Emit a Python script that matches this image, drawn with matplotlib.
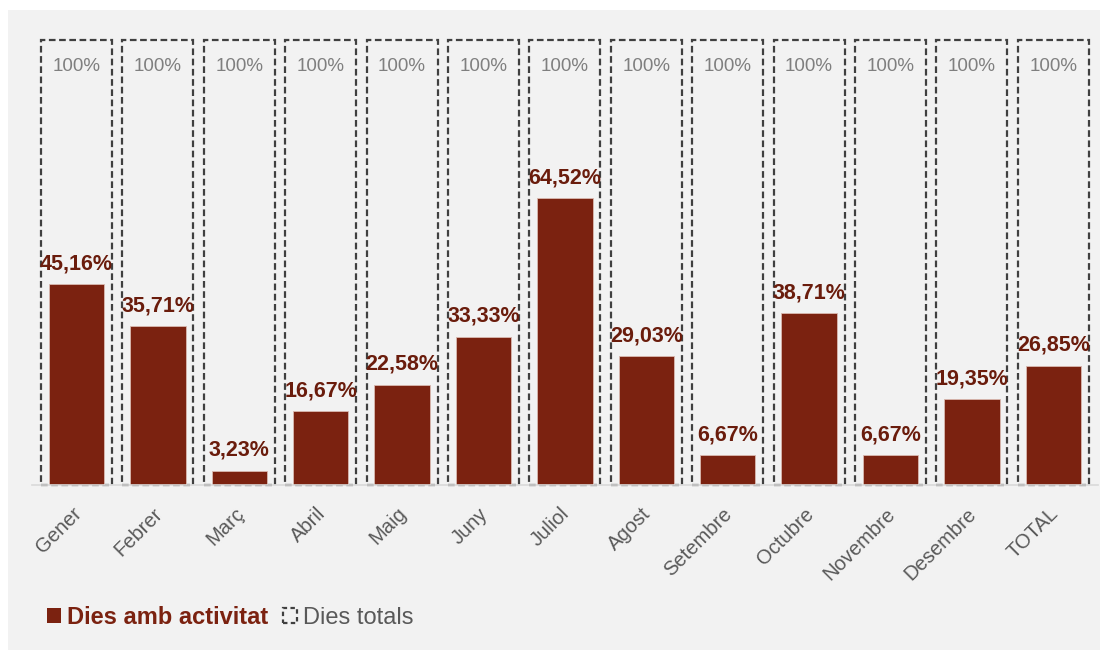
import numpy as np
import matplotlib
matplotlib.use("Agg")
import matplotlib.pyplot as plt
import matplotlib.transforms as mtransforms
from matplotlib.patches import Rectangle, Patch

plt.rcParams["font.family"] = ["Liberation Sans", "DejaVu Sans"]

months = ["Gener", "Febrer", "Març", "Abril", "Maig", "Juny", "Juliol",
          "Agost", "Setembre", "Octubre", "Novembre", "Desembre", "TOTAL"]
active_pct = [45.16, 35.71, 3.23, 16.67, 22.58, 33.33, 64.52,
              29.03, 6.67, 38.71, 6.67, 19.35, 26.85]
total_pct = [100] * len(months)

bar_color = "#7B2210"
label_color = "#6A1C0C"
box_color = "#404040"
grey_txt = "#595959"
bg = "#F2F2F2"

fig = plt.figure(figsize=(11.09, 6.54), dpi=100, facecolor="white")
# grey panel behind the chart
fig.patches.append(Rectangle((8 / 1109, 4 / 654), 1092 / 1109, 640 / 654,
                             transform=fig.transFigure, facecolor=bg,
                             edgecolor="none", zorder=-5))

W, H = 1109, 654
step = 81.4
x0 = 76.5 - 0.55 * step
ax = fig.add_axes([x0 / W, (H - 485) / H, 13.1 * step / W, 445 * 1.02 / H])
ax.set_facecolor("none")

x = np.arange(len(months))
ax.bar(x, [v / 100 for v in total_pct], width=0.87, facecolor="none",
       edgecolor=box_color, linewidth=1.6, linestyle=(0, (3, 1.6)),
       zorder=2, clip_on=False)
ax.bar(x, [v / 100 for v in active_pct], width=0.68, color=bar_color,
       edgecolor="#D9B9B0", linewidth=0.6, zorder=3)

for xi, v in zip(x, active_pct):
    ax.annotate(f"{v:.2f}%".replace(".", ","), (xi, v / 100),
                xytext=(0, 7), textcoords="offset points", ha="center",
                va="bottom", fontsize=15.5, fontweight="bold",
                color=label_color, zorder=4)
for xi, v in zip(x, total_pct):
    ax.text(xi, 0.94, f"{v}%", ha="center", va="center", fontsize=13.5,
            color="#7F7F7F", zorder=4)

ax.set_xlim(-0.55, 12.55)
ax.set_ylim(0, 1.02)
for s in ["top", "right", "left"]:
    ax.spines[s].set_visible(False)
ax.spines["bottom"].set_color("#D9D9D9")
ax.spines["bottom"].set_linewidth(1.2)
ax.spines["bottom"].set_zorder(5)
ax.set_yticks([])
ax.set_xticks(x)
ax.set_xticklabels(months, rotation=45, ha="right", rotation_mode="anchor",
                   fontsize=14.5, color=grey_txt)
ax.tick_params(axis="x", length=0, pad=8)
shift = mtransforms.ScaledTranslation(-5 / 100, -8 / 100, fig.dpi_scale_trans)
for lbl in ax.get_xticklabels():
    lbl.set_transform(lbl.get_transform() + shift)

handles = [Patch(facecolor=bar_color, edgecolor="none"),
           Patch(facecolor="none", edgecolor=box_color, linewidth=1.6,
                 linestyle=(0, (2, 1.5)))]
leg = fig.legend(handles, ["Dies amb activitat", "Dies totals"],
                 loc="center left", bbox_to_anchor=(26 / W, (H - 617) / H),
                 ncol=2, frameon=False, fontsize=17, handlelength=0.6,
                 handleheight=0.6, handletextpad=0.25, columnspacing=0.6)
texts = leg.get_texts()
texts[0].set_color(bar_color)
texts[0].set_fontweight("bold")
texts[1].set_color(grey_txt)

fig.savefig("out.png", dpi=100, facecolor="white")
